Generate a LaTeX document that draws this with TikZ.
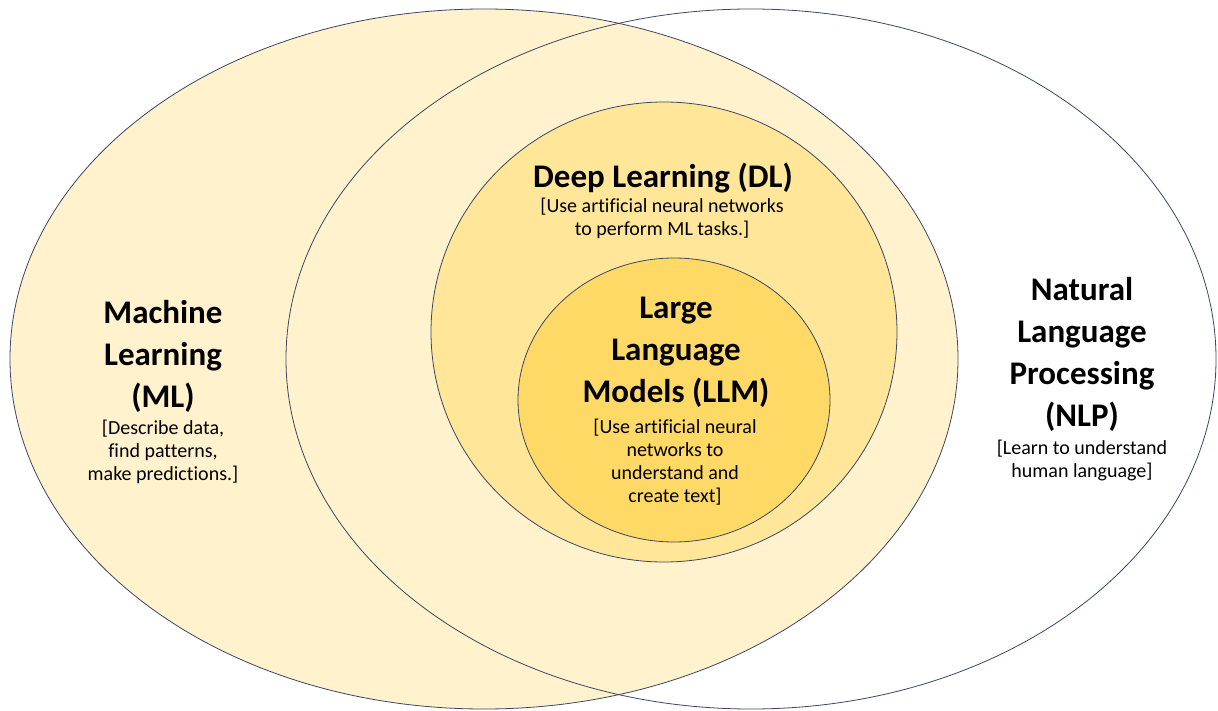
\documentclass[tikz,border=0pt]{standalone}
\usepackage{fontspec}
\setmainfont{Carlito}[Ligatures=CommonOff]
\usetikzlibrary{positioning}

\definecolor{mlfill}{HTML}{FFF2CC}
\definecolor{dlfill}{HTML}{FFE699}
\definecolor{llmfill}{HTML}{FFD966}
\definecolor{rim}{HTML}{3A4765}

\begin{document}
\begin{tikzpicture}[x=1pt, y=-1pt,
    region/.style={draw=rim, line width=0.8pt},
    title/.style={font=\fontsize{33}{42}\selectfont\bfseries, align=center, inner sep=0pt, anchor=base},
    note/.style={font=\fontsize{20}{23}\selectfont, align=center, inner sep=0pt, anchor=base}]
    \useasboundingbox (0,0) rectangle (1218,711);
    \fill[white] (0,0) rectangle (1218,711);

    % centres of the sets
    \coordinate (ml) at (484,359);
    \coordinate (nlp) at (751,359);
    \coordinate (dl) at (664,332);
    \coordinate (llm) at (674,400);

    \draw[region, fill=mlfill] (ml) ellipse [x radius=474, y radius=350];
    \draw[region] (nlp) ellipse [x radius=465, y radius=350];
    \draw[region, fill=dlfill] (dl) ellipse [x radius=233, y radius=230];
    \draw[region, fill=llmfill] (llm) ellipse [x radius=156, y radius=142];

    % labels
    \node[title] (mltitle) at (163,407) {Machine\\Learning\\(ML)};
    \node[note] (mlnote) at (163,480) {[Describe data,\\find patterns,\\make predictions.]};

    \node[title] (dltitle) at (663,188) {Deep Learning (DL)};
    \node[note] (dlnote) at (662,236) {[Use artificial neural networks\\to perform ML tasks.]};

    \node[title] (llmtitle) at (676,402) {Large\\Language\\Models (LLM)};
    \node[note] (llmnote) at (675,502) {[Use artificial neural\\networks to\\understand and\\create text]};

    \node[title] (nlptitle) at (1082,426) {Natural\\Language\\Processing\\(NLP)};
    \node[note] (nlpnote) at (1082,477) {[Learn to understand\\human language]};
\end{tikzpicture}
\end{document}
